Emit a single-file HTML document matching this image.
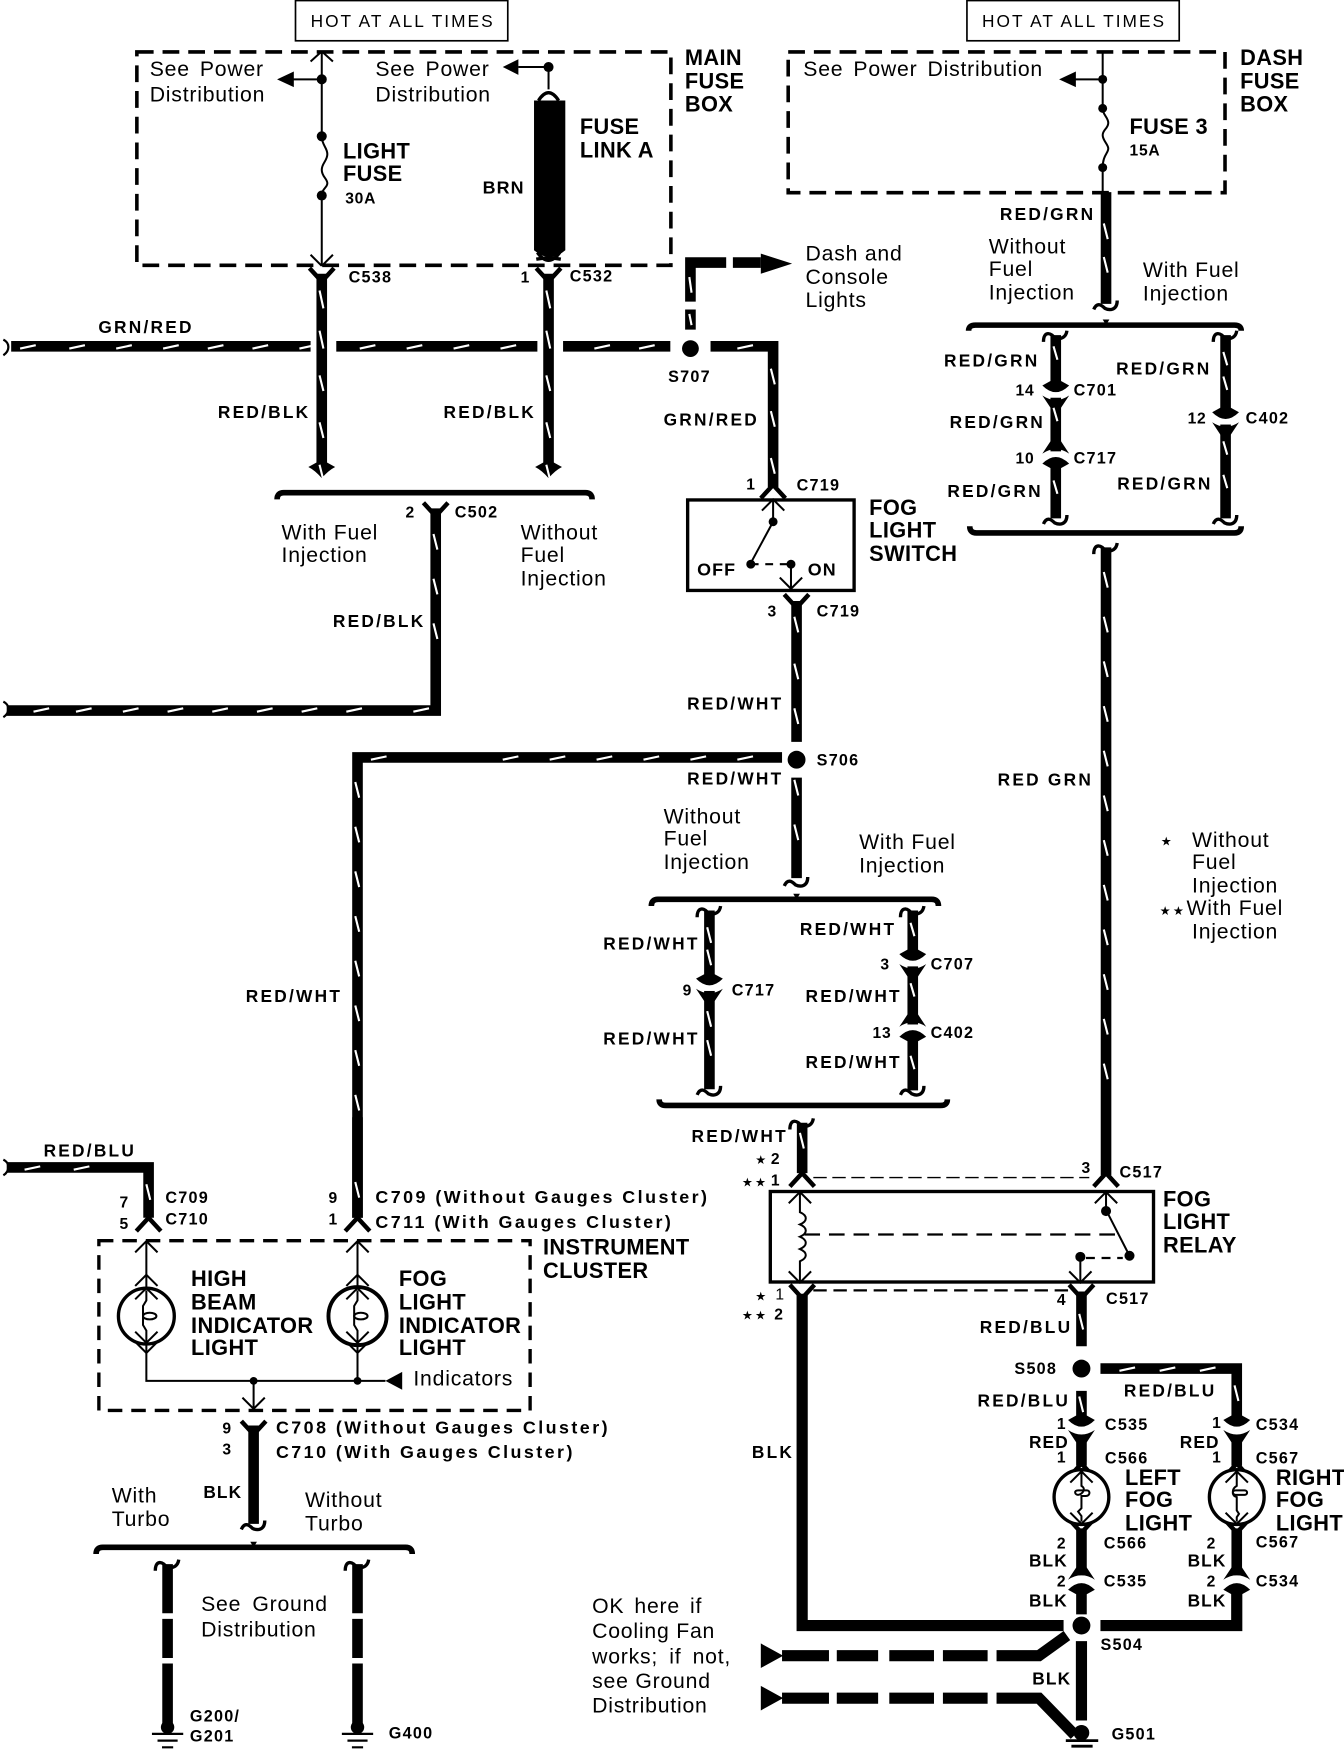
<!DOCTYPE html>
<html><head><meta charset="utf-8"><title>Fog Light Circuit</title>
<style>
html,body{margin:0;padding:0;background:#fff;width:1344px;height:1750px;overflow:hidden}
svg{display:block}
text{font-family:"Liberation Sans",sans-serif;fill:#000;font-size:19px;letter-spacing:.7px}
.b{font-weight:bold;font-size:19.5px;letter-spacing:.35px}
.w{font-size:15.500px;letter-spacing:2px;font-weight:bold;stroke:none}
.c{font-size:14.500px;letter-spacing:1.100px;font-weight:bold}
.l{font-size:16px;letter-spacing:2.200px;font-weight:bold}
.n{font-size:14px;font-weight:bold}
.s{font-family:"DejaVu Sans",sans-serif;font-size:11px;letter-spacing:2px}
.wire{fill:none;stroke:#000;stroke-width:9.500}
.tick{fill:none;stroke:#fff;stroke-width:1.900}
.thin{fill:none;stroke:#000;stroke-width:1.800}
.dash{fill:none;stroke:#000;stroke-width:3.200;stroke-dasharray:15 8}
.br{fill:none;stroke:#000;stroke-width:5}
</style></head><body>
<svg xmlns="http://www.w3.org/2000/svg" width="1344" height="1750" viewBox="0 0 1203 1566.4">
<defs>
<path id="y" d="M-11 -10L0 2L11 -10" fill="none" stroke="#000" stroke-width="4"/>
<path id="l" d="M-11 10L0 -2L11 10" fill="none" stroke="#000" stroke-width="4"/>
<path id="ar" d="M-4.700 -10L-12 -6Q-6 -3 0 4Q6 -3 12 -6L4.700 -10z"/>
<path id="ct" d="M-11 6C-11 -4 -4 -3 0 4C4 3 9 3 10 -4" fill="none" stroke="#000" stroke-width="3"/>
<path id="cb" d="M-11 3C-8 -4 -4 -1 -1 2C3 4 10 4 10 -5" fill="none" stroke="#000" stroke-width="3"/>
<path id="cd" d="M-4.700 -10L-12 -6Q0 6 12 -6L4.700 -10zM-12 3Q0 11 12 3L4.700 14H-4.700z"/>
<path id="cu" d="M-4.700 10L-12 6Q0 -6 12 6L4.700 10zM-12 -3Q0 -11 12 -3L4.700 -14H-4.700z"/>
<path id="ty" d="M-10 -9L0 1L10 -9" fill="none" stroke="#000" stroke-width="1.800"/>
<path id="tl" d="M-10 9L0 -1L10 9" fill="none" stroke="#000" stroke-width="1.800"/>
</defs>
<rect width="1203" height="1567" fill="#fff"/>

<!-- top labels -->
<rect x="264.500" y="0.500" width="190" height="36" fill="none" stroke="#000" stroke-width="1.500"/>
<text x="278" y="24" style="font-size:15.500px;letter-spacing:1.800px">HOT AT ALL TIMES</text>
<rect x="865.500" y="0.500" width="190" height="36" fill="none" stroke="#000" stroke-width="1.500"/>
<text x="879" y="24" style="font-size:15.500px;letter-spacing:1.800px">HOT AT ALL TIMES</text>

<!-- main fuse box -->
<rect x="122.500" y="46.500" width="478" height="191" class="dash"/>
<text x="134" y="68" style="word-spacing:3px">See Power</text><text x="134" y="91">Distribution</text>
<text x="336" y="68" style="word-spacing:3px">See Power</text><text x="336" y="91">Distribution</text>
<text class="b" x="613" y="58">MAIN</text><text class="b" x="613" y="79">FUSE</text><text class="b" x="613" y="100">BOX</text>
<path class="thin" d="M288 46V122M288 175V238M288 71H260M491 60H464M491 60V80M288 122c0 8 5 10 5 16s-5 8-5 14 5 8 5 12-5 5-5 11" stroke-width="2"/>
<path d="M288 46l-10 9M288 46l10 9M288 238l-10 -10M288 238l10 -10" class="thin"/>
<path d="M248 71l15 -7v14zM450 60l14 -7v14z"/>
<circle cx="288" cy="71" r="4.500"/><circle cx="288" cy="122" r="4.500"/><circle cx="288" cy="175" r="4.500"/><circle cx="491" cy="60" r="4.500"/>
<path d="M482 90q9 -14 18 0" fill="none" stroke="#000" stroke-width="3"/>
<path d="M478 90H506V224q-14 12 -28 0z"/>
<path d="M480 232q11 -2 22 0" fill="none" stroke="#000" stroke-width="3"/>
<path d="M481 226q10 14 20 0" fill="none" stroke="#000" stroke-width="3"/>
<text class="b" x="307" y="142">LIGHT</text><text class="b" x="307" y="162">FUSE</text><text class="n" x="309" y="182">30A</text>
<text class="b" x="519" y="120">FUSE</text><text class="b" x="519" y="141">LINK A</text>
<text class="w" x="432" y="173" style="font-size:16px;letter-spacing:1px">BRN</text>

<text class="c" x="312" y="253">C538</text><text class="n" x="466" y="253">1</text><text class="c" x="510" y="252">C532</text>

<!-- wires top left -->
<path class="wire" d="M288 245V420M491 245V420M10 310H278M301 310H481M504 310H600M636 310H692V436"/>
<use href="#y" x="288" y="250"/><use href="#y" x="491" y="250"/><use href="#ar" x="288" y="424"/><use href="#ar" x="491" y="424"/>
<path class="tick" d="M286 260l3.500 16m-3.500 20l3.500 16m-3.500 24l3.500 14m-3.500 28l3.500 14m-3.500 24l3.500 14M489 260l3.500 16m-3.500 20l3.500 16m-3.500 24l3.500 14m-3.500 28l3.500 14m-3.500 24l3.500 14M18 312l14 -3m30 3l14 -3m28 3l14 -3m28 3l14 -3m26 3l14 -3m26 3l14 -3m28 3l14 -3M322 312l14 -3m28 3l14 -3m28 3l14 -3m28 3l14 -3M532 312l14 -3m26 3l14 -3M660 312l14 -3M690 330l3.500 14m-3.500 24l3.500 14m-3.500 28l3.500 14"/>
<path d="M3 304c6 3 6 10 0 14" fill="none" stroke="#000" stroke-width="2"/>
<text class="w" x="88" y="298">GRN/RED</text>
<text class="w" x="195" y="374">RED/BLK</text><text class="w" x="397" y="374">RED/BLK</text>
<text class="w" x="594" y="381">GRN/RED</text>
<circle cx="618" cy="312" r="7.500"/>
<text class="c" x="598" y="342">S707</text>
<path class="wire" d="M618 295V277M618 270V235H650M656 235H681" />
<path class="tick" d="M617 281l2 10M617 248l2 14"/>
<path d="M681 227L709 236L681 245z"/>
<text x="721" y="233">Dash and</text><text x="721" y="254">Console</text><text x="721" y="275">Lights</text>

<!-- bracket C502 -->
<path class="br" d="M248 447Q248 441 254 441H524Q530 441 530 447"/>
<text class="n" x="363" y="463">2</text><text class="c" x="407" y="463">C502</text>
<text x="252" y="483">With Fuel</text><text x="252" y="503">Injection</text>
<text x="466" y="483">Without</text><text x="466" y="503">Fuel</text><text x="466" y="524">Injection</text>
<path class="wire" d="M390 455V636H6"/>
<use href="#y" x="390" y="460"/>
<path class="tick" d="M388 478l3.500 14m-3.500 26l3.500 14m-3.500 26l3.500 14M370 637l14 -3M30 637l14 -3m24 3l14 -3m28 3l14 -3m26 3l14 -3m26 3l14 -3m26 3l14 -3m26 3l14 -3m26 3l14 -3"/>
<path d="M3 628c6 3 6 10 0 14" fill="none" stroke="#000" stroke-width="2"/>
<text class="w" x="298" y="561">RED/BLK</text>

<!-- switch -->
<rect x="615.500" y="447.500" width="149" height="81" fill="none" stroke="#000" stroke-width="3"/>
<use href="#l" x="692" y="436"/>
<text class="n" x="668" y="438">1</text><text class="c" x="713" y="439">C719</text>
<text class="b" x="778" y="461">FOG</text><text class="b" x="778" y="481">LIGHT</text><text class="b" x="778" y="502">SWITCH</text>
<path class="thin" d="M692 447V467M692 467L672 504M708 505V528" stroke-width="2.200"/>
<use href="#tl" x="692" y="448"/><use href="#ty" x="708" y="526"/>
<circle cx="692" cy="467" r="4"/><circle cx="672" cy="505" r="4"/><circle cx="708" cy="505" r="4"/>
<path d="M672 505H708" stroke="#000" stroke-width="2" stroke-dasharray="7 6"/>
<text class="w" x="624" y="515" style="font-size:16px;letter-spacing:1px">OFF</text><text class="w" x="723" y="515" style="font-size:16px;letter-spacing:1px">ON</text>

<path class="wire" d="M713 538V664M713 696V786M700 678H320V1090"/>
<use href="#y" x="713" y="542"/><use href="#cb" x="713" y="790"/>
<text class="n" x="687" y="552">3</text><text class="c" x="731" y="552">C719</text>
<circle cx="713" cy="680" r="8"/>
<text class="c" x="731" y="685">S706</text>
<text class="w" x="615" y="635">RED/WHT</text><text class="w" x="615" y="702">RED/WHT</text>
<text class="w" x="220" y="897">RED/WHT</text>
<path class="tick" d="M711 552l3.500 14m-3.500 28l3.500 14m-3.500 26l3.500 14m-3.500 50l3.500 14m-3.500 26l3.500 14M660 680l14 -3m-56 3l14 -3m-56 3l14 -3m-56 3l14 -3m-56 3l14 -3m-56 3l14 -3M332 680l14 -3M318 700l3.500 14m-3.500 26l3.500 14m-3.500 26l3.500 14m-3.500 26l3.500 14m-3.500 26l3.500 14m-3.500 26l3.500 14m-3.500 26l3.500 14m-3.500 26l3.500 14m-3.500 26l3.500 14m-3.500 26l3.500 14"/>
<text x="594" y="737">Without</text><text x="594" y="757">Fuel</text><text x="594" y="778">Injection</text>
<text x="769" y="760">With Fuel</text><text x="769" y="781">Injection</text>
<path class="br" d="M583 811Q583 805 589 805H834Q840 805 840 811"/>
<path d="M713 805l-3 -5h6z"/>
<path class="wire" d="M635 815V975M817 815V976"/>
<use href="#ct" x="635" y="815"/><use href="#ct" x="817" y="815"/>
<rect x="622" y="878" width="26" height="9" fill="#fff"/><rect x="804" y="856" width="26" height="9" fill="#fff"/><rect x="804" y="917" width="26" height="9" fill="#fff"/>
<use href="#cd" x="635" y="882"/><use href="#cd" x="817" y="860"/><use href="#cu" x="817" y="922"/>
<use href="#cb" x="635" y="977"/><use href="#cb" x="817" y="977"/>
<path class="tick" d="M633 830l3.500 14m-3.500 6l3.500 14M633 905l3.500 14m-3.500 12l3.500 14M815 826l3.500 12M815 880l3.500 12M815 945l3.500 12"/>
<text class="w" x="540" y="850">RED/WHT</text><text class="w" x="540" y="935">RED/WHT</text>
<text class="w" x="716" y="837">RED/WHT</text><text class="w" x="721" y="897">RED/WHT</text><text class="w" x="721" y="956">RED/WHT</text>
<text class="n" x="611" y="891">9</text><text class="c" x="655" y="891">C717</text>
<text class="n" x="788" y="868">3</text><text class="c" x="833" y="868">C707</text>
<text class="n" x="781" y="929">13</text><text class="c" x="833" y="929">C402</text>
<path class="br" d="M590 984Q590 989.500 596 989.500H842Q848 989.500 848 984"/>
<path class="wire" d="M718 1005V1050"/>
<use href="#l" x="718" y="1052"/>
<use href="#ct" x="718" y="1005"/>
<path class="tick" d="M716 1014l3.500 14"/>
<text class="w" x="619" y="1022">RED/WHT</text>
<text class="s" x="676" y="1042">★</text><text class="n" x="690" y="1042">2</text>
<text class="s" x="664" y="1062">★★</text><text class="n" x="690" y="1061">1</text>

<!-- dash fuse box -->
<rect x="705.500" y="46.500" width="391" height="126" class="dash"/>
<text x="719" y="68" style="word-spacing:3px">See Power Distribution</text>
<text class="b" x="1110" y="58">DASH</text><text class="b" x="1110" y="79">FUSE</text><text class="b" x="1110" y="100">BOX</text>
<path class="thin" d="M987 46V97M987 150V172M987 71H962M987 97c0 6 5 8 5 13s-5 6-5 11 5 8 5 12-5 6-5 17" stroke-width="2"/>
<path d="M948 71l15 -7v14z"/>
<circle cx="987" cy="71" r="4"/><circle cx="987" cy="97" r="4"/><circle cx="987" cy="150" r="4"/>
<text class="b" x="1011" y="120">FUSE 3</text><text class="n" x="1011" y="139">15A</text>
<path class="wire" d="M990 172V272M990 490V1052"/>
<use href="#cb" x="990" y="274"/>
<path class="tick" d="M988 200l3.500 14m-3.500 16l3.500 14M988 512l3.500 14m-3.500 26l3.500 14m-3.500 26l3.500 14m-3.500 26l3.500 14m-3.500 26l3.500 14m-3.500 26l3.500 14m-3.500 26l3.500 14m-3.500 26l3.500 14m-3.500 26l3.500 14m-3.500 26l3.500 14m-3.500 26l3.500 14m-3.500 26l3.500 14"/>
<text class="w" x="895" y="197">RED/GRN</text>
<text x="885" y="227">Without</text><text x="885" y="247">Fuel</text><text x="885" y="268">Injection</text>
<text x="1023" y="248">With Fuel</text><text x="1023" y="269">Injection</text>
<path class="br" d="M867 296Q867 291 873 291H1105Q1111 291 1111 296"/>
<path d="M990 291l-3 -5h6z"/>
<path class="wire" d="M945 300V464M1097 300V464"/>
<use href="#ct" x="945" y="300"/><use href="#ct" x="1097" y="300"/>
<rect x="932" y="347" width="26" height="9" fill="#fff"/><rect x="932" y="404" width="26" height="9" fill="#fff"/><rect x="1084" y="371" width="26" height="9" fill="#fff"/>
<use href="#cd" x="945" y="351"/><use href="#cu" x="945" y="409"/><use href="#cd" x="1097" y="375"/>
<use href="#cb" x="945" y="466"/><use href="#cb" x="1097" y="466"/>
<path class="tick" d="M943 310l3.500 12M943 365l3.500 12M943 430l3.500 12M1095 315l3.500 12m-3.500 10l3.500 12M1095 395l3.500 12m-3.500 18l3.500 12"/>
<text class="w" x="845" y="328">RED/GRN</text><text class="w" x="999" y="335">RED/GRN</text>
<text class="n" x="909" y="354">14</text><text class="c" x="961" y="354">C701</text>
<text class="w" x="850" y="383">RED/GRN</text>
<text class="n" x="1063" y="379">12</text><text class="c" x="1115" y="379">C402</text>
<text class="n" x="909" y="415">10</text><text class="c" x="961" y="415">C717</text>
<text class="w" x="848" y="445">RED/GRN</text><text class="w" x="1000" y="438">RED/GRN</text>
<path class="br" d="M868 471Q868 477 874 477H1105Q1111 477 1111 471"/>
<use href="#ct" x="990" y="490"/>
<text class="w" x="893" y="703">RED GRN</text>
<text class="s" x="1039" y="757">★</text><text x="1067" y="758">Without</text><text x="1067" y="778">Fuel</text><text x="1067" y="799">Injection</text>
<text class="s" x="1038" y="819">★★</text><text x="1062" y="819">With Fuel</text><text x="1067" y="840">Injection</text>

<!-- relay -->
<use href="#l" x="990" y="1052"/>
<text class="n" x="968" y="1050">3</text><text class="c" x="1002" y="1054">C517</text>
<path d="M728 1054H975" stroke="#000" stroke-width="1.200" stroke-dasharray="12 5"/>
<rect x="689.500" y="1066.500" width="343" height="81" fill="none" stroke="#000" stroke-width="3"/>
<text class="b" x="1041" y="1080">FOG</text><text class="b" x="1041" y="1100">LIGHT</text><text class="b" x="1041" y="1121">RELAY</text>
<path class="thin" d="M716 1067V1085c7 3 7 8 0 11 7 3 7 8 0 11 7 3 7 8 0 11 7 3 7 8 0 11V1147M990 1067V1083L1011 1124M967 1125V1147" stroke-width="2"/>
<use href="#tl" x="716" y="1068"/><use href="#tl" x="990" y="1068"/><use href="#ty" x="716" y="1147"/><use href="#ty" x="967" y="1147"/>
<circle cx="990" cy="1084" r="4.500"/><circle cx="1011" cy="1124" r="4.500"/><circle cx="967" cy="1125" r="4.500"/>
<path d="M720 1105H1000" stroke="#000" stroke-width="2" stroke-dasharray="14 8"/>
<path d="M972 1126H1005" stroke="#000" stroke-width="2" stroke-dasharray="8 6"/>
<path d="M728 1155H958" stroke="#000" stroke-width="2" stroke-dasharray="12 6"/>
<text class="s" x="676" y="1164">★</text><text class="n" x="694" y="1163" style="font-weight:normal">1</text>
<text class="s" x="664" y="1181">★★</text><text class="n" x="693" y="1181">2</text>
<text class="n" x="946" y="1168">4</text><text class="c" x="990" y="1167">C517</text>
<path class="wire" style="stroke-width:10" d="M718 1158V1455H952M985 1455H1107V1422"/>
<use href="#y" x="718" y="1160"/>
<text class="w" x="673" y="1305">BLK</text>

<path class="wire" d="M968 1156V1205M968 1245V1273M985 1225H1107V1273M968 1285V1312M1107 1285V1312M968 1368V1410M1107 1368V1410M968 1424V1445"/>
<use href="#y" x="968" y="1160"/>
<path class="tick" d="M966 1176l3.500 14M966 1250l3.500 14M1002 1227l14 -3m22 3l14 -3m22 3l14 -3M1105 1240l3.500 14"/>
<circle cx="968" cy="1225" r="8"/>
<text class="c" x="908" y="1230">S508</text>
<text class="w" x="877" y="1193">RED/BLU</text><text class="w" x="875" y="1259">RED/BLU</text><text class="w" x="1006" y="1250">RED/BLU</text>
<use href="#cd" x="968" y="1277"/><use href="#cd" x="1107" y="1277"/>
<use href="#l" x="968" y="1312"/><use href="#l" x="1107" y="1312"/>
<use href="#y" x="968" y="1370"/><use href="#y" x="1107" y="1370"/>
<use href="#cu" x="968" y="1417"/><use href="#cu" x="1107" y="1417"/>

<text class="n" x="946" y="1279">1</text><text class="c" x="989" y="1280">C535</text>
<text class="n" x="1085" y="1278">1</text><text class="c" x="1124" y="1280">C534</text>
<text class="w" x="921" y="1296" style="letter-spacing:1px">RED</text><text class="w" x="1056" y="1296" style="letter-spacing:1px">RED</text>
<text class="n" x="946" y="1309">1</text><text class="c" x="989" y="1310">C566</text>
<text class="n" x="1085" y="1309">1</text><text class="c" x="1124" y="1310">C567</text>

<circle cx="968" cy="1340" r="24.500" fill="#fff" stroke="#000" stroke-width="3"/>
<circle cx="1107" cy="1340" r="24.500" fill="#fff" stroke="#000" stroke-width="3"/>
<path class="thin" d="M968 1318V1330c5 3 0 8 -3 8s-4 -4 0 -4h8c3 0 3 5 -1 5h-4V1350l-3 3 3 4V1362"/>
<path class="thin" d="M1107 1318V1330c-5 3 -4 8 -1 8h8c3 0 3 -4 0 -4h-8c-4 0 -3 5 1 6V1352l2 3-2 3V1362"/>
<use href="#tl" x="968" y="1318"/><use href="#tl" x="1107" y="1318"/><use href="#ty" x="968" y="1363"/><use href="#ty" x="1107" y="1363"/>

<text class="b" x="1007" y="1329">LEFT</text><text class="b" x="1007" y="1349">FOG</text><text class="b" x="1007" y="1370">LIGHT</text>
<text class="b" x="1142" y="1329">RIGHT</text><text class="b" x="1142" y="1349">FOG</text><text class="b" x="1142" y="1370">LIGHT</text>

<text class="n" x="946" y="1386">2</text><text class="c" x="988" y="1386">C566</text>
<text class="n" x="1080" y="1386">2</text><text class="c" x="1124" y="1385">C567</text>
<text class="w" x="921" y="1402" style="letter-spacing:1px">BLK</text><text class="w" x="1063" y="1402" style="letter-spacing:1px">BLK</text>
<text class="n" x="946" y="1420">2</text><text class="c" x="988" y="1420">C535</text>
<text class="n" x="1080" y="1420">2</text><text class="c" x="1124" y="1420">C534</text>
<text class="w" x="921" y="1438" style="letter-spacing:1px">BLK</text><text class="w" x="1063" y="1438" style="letter-spacing:1px">BLK</text>

<circle cx="968" cy="1455" r="8"/>
<text class="c" x="985" y="1477">S504</text>
<path class="wire" style="stroke-width:10" d="M968 1469V1540"/>
<path fill="none" stroke="#000" stroke-width="10" d="M700 1482H742M749 1482H786M796 1482H836M844 1482H884M892 1482H930L955 1464"/>
<path fill="none" stroke="#000" stroke-width="10" d="M700 1520H742M749 1520H786M796 1520H836M844 1520H884M892 1520H930L962 1553"/>
<path d="M681 1471L701 1482L681 1493zM681 1509L701 1520L681 1531z"/>
<text class="w" x="924" y="1508" style="letter-spacing:1px">BLK</text>
<circle cx="968" cy="1551" r="7"/>
<path d="M954 1558H983M959 1563H978" stroke="#000" stroke-width="2.500"/>
<text class="c" x="995" y="1557">G501</text>
<text x="530" y="1444" style="word-spacing:3px">OK here if</text><text x="530" y="1466">Cooling Fan</text><text x="530" y="1489" style="word-spacing:4px">works; if not,</text><text x="530" y="1511">see Ground</text><text x="530" y="1533">Distribution</text>

<!-- left indicators -->
<path class="wire" d="M6 1045H133V1090M320 1000V1090"/>
<path d="M3 1038c6 3 6 10 0 14" fill="none" stroke="#000" stroke-width="2"/>
<path class="tick" d="M22 1047l14 -3m30 3l14 -3M131 1060l3.500 14M318 1058l3.500 14"/>
<use href="#l" x="133" y="1092"/><use href="#l" x="320" y="1092"/>
<text class="w" x="39" y="1035">RED/BLU</text>
<text class="n" x="107" y="1081">7</text><text class="n" x="107" y="1100">5</text>
<text class="c" x="148" y="1077">C709</text><text class="c" x="148" y="1096">C710</text>
<text class="n" x="294" y="1077">9</text><text class="n" x="294" y="1096">1</text>
<text class="l" x="336" y="1077">C709 (Without Gauges Cluster)</text>
<text class="l" x="336" y="1099">C711 (With Gauges Cluster)</text>
<rect x="88.500" y="1110.500" width="386" height="152" class="dash" style="stroke-width:3;stroke-dasharray:13 8"/>
<text class="b" x="486" y="1123">INSTRUMENT</text><text class="b" x="486" y="1144">CLUSTER</text>
<path class="thin" d="M131 1112V1152M320 1112V1152M131 1204V1236H345M320 1204V1236M227 1236V1260"/>
<use href="#tl" x="131" y="1112"/><use href="#tl" x="320" y="1112"/><use href="#tl" x="131" y="1142"/><use href="#tl" x="320" y="1142"/>
<use href="#ty" x="131" y="1210"/><use href="#ty" x="320" y="1210"/><use href="#ty" x="227" y="1260"/>
<circle cx="131" cy="1178" r="25" fill="#fff" stroke="#000" stroke-width="3"/>
<circle cx="320" cy="1178" r="26" fill="#fff" stroke="#000" stroke-width="3.500"/>
<path class="thin" d="M131 1155V1164l-3 5V1186l3 5V1201M320 1155V1164l-3 5V1186l3 5V1201"/>
<ellipse cx="134" cy="1178" rx="6" ry="3" fill="none" stroke="#000" stroke-width="1.800"/>
<ellipse cx="323" cy="1178" rx="6" ry="3" fill="none" stroke="#000" stroke-width="1.800"/>
<use href="#tl" x="131" y="1154"/><use href="#tl" x="320" y="1154"/><use href="#ty" x="131" y="1201"/><use href="#ty" x="320" y="1201"/>
<circle cx="227" cy="1236" r="3.500"/><circle cx="320" cy="1236" r="3.500"/>
<path d="M345 1236L360 1228V1244z"/>
<text class="b" x="171" y="1151">HIGH</text><text class="b" x="171" y="1172">BEAM</text><text class="b" x="171" y="1193">INDICATOR</text><text class="b" x="171" y="1213">LIGHT</text>
<text class="b" x="357" y="1151">FOG</text><text class="b" x="357" y="1172">LIGHT</text><text class="b" x="357" y="1193">INDICATOR</text><text class="b" x="357" y="1213">LIGHT</text>
<text x="370" y="1240">Indicators</text>

<path class="wire" d="M227 1276V1364"/>
<use href="#y" x="227" y="1282"/>
<use href="#cb" x="227" y="1366"/>
<text class="n" x="199" y="1283">9</text><text class="n" x="199" y="1302">3</text>
<text class="l" x="247" y="1283">C708 (Without Gauges Cluster)</text>
<text class="l" x="247" y="1305">C710 (With Gauges Cluster)</text>
<text class="w" x="182" y="1341" style="letter-spacing:1px">BLK</text>
<text x="100" y="1345">With</text><text x="100" y="1366">Turbo</text>
<text x="273" y="1349">Without</text><text x="273" y="1370">Turbo</text>
<path class="br" d="M86 1391Q86 1385 92 1385H363Q369 1385 369 1391"/>
<path d="M227 1385l-3 -5h6z"/>
<path class="wire" d="M150 1400V1444M150 1449V1484M150 1489V1546M320 1400V1444M320 1449V1484M320 1489V1546"/>
<use href="#ct" x="150" y="1400"/><use href="#ct" x="320" y="1400"/>
<path d="M136 1552H164M141 1558H159M145 1564H155M306 1552H334M311 1558H329M315 1564H325" stroke="#000" stroke-width="2"/>
<circle cx="150" cy="1546" r="6"/><circle cx="320" cy="1546" r="6"/>
<text x="180" y="1442" style="word-spacing:4px">See Ground</text><text x="180" y="1465">Distribution</text>
<text class="c" x="170" y="1541">G200/</text><text class="c" x="170" y="1559">G201</text>
<text class="c" x="348" y="1556">G400</text>
</svg>
</body></html>
